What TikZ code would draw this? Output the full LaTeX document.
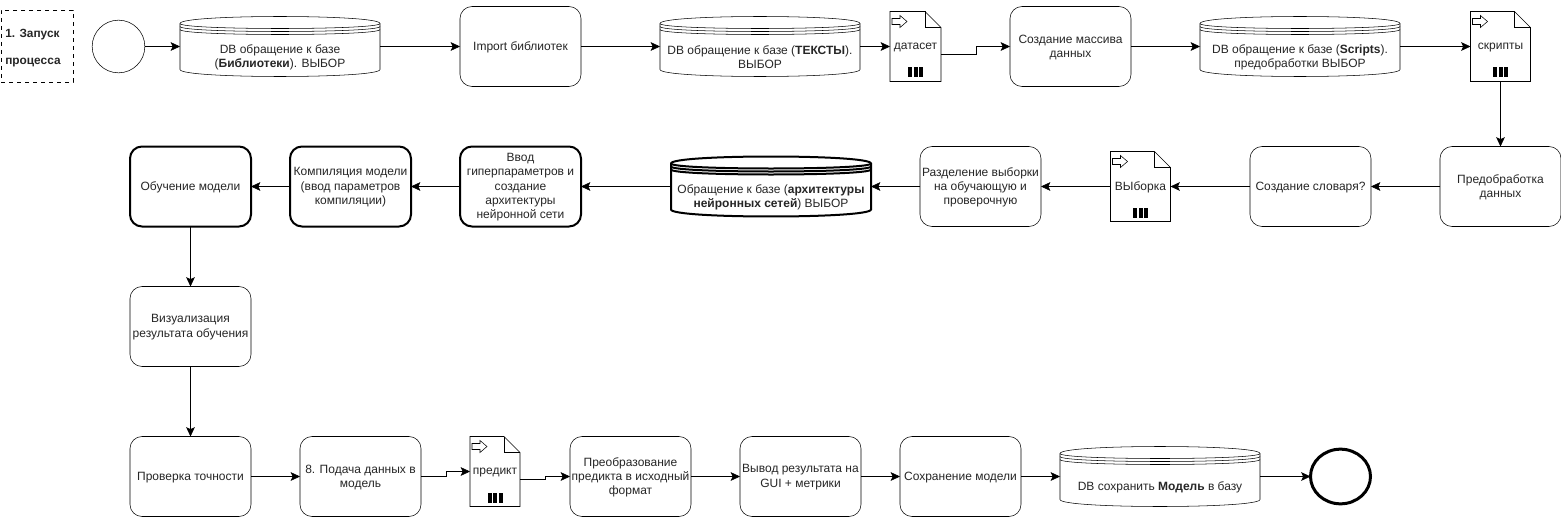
\documentclass[tikz,border=0pt]{standalone}
\usepackage{fontspec}
\setmainfont{Liberation Sans}
\usetikzlibrary{arrows.meta,shapes.geometric}
\tikzset{
  x=0.75pt,y=-0.75pt,
  line width=0.75pt,
  every node/.style={outer sep=0pt},
  label text/.style={font=\fontsize{9}{10.6}\selectfont,align=center,inner sep=0pt,text=black!85},
  flowbox/.style={draw,rounded corners=9pt,minimum width=90.75pt,minimum height=60pt,inner sep=0pt,anchor=north west},
  heavy/.style={line width=1.5pt},
  flow/.style={-{Stealth[length=7pt,width=6.5pt,inset=1.5pt]}},
}
% name, x, y, box style, label
\newcommand{\procbox}[5]{%
  \node[flowbox,#4] (#1) at (#2,#3) {};
  \node[label text,anchor=center] (#1T) at ([yshift=-0.5pt]#1.center) {#5};
}
% name, x, y, style, label
\newcommand{\dbstore}[5]{%
  \node[anchor=north west,minimum width=150pt,minimum height=45pt,inner sep=0pt] (#1) at (#2,#3) {};
  \begin{scope}[shift={(#2,#3)},#4]
    \draw[fill=white] (0,7) .. controls (0,-2.33) and (200,-2.33) .. (200,7) -- (200,53) .. controls (200,62.33) and (0,62.33) .. (0,53) -- cycle;
    \draw (0,7) .. controls (0,13.67) and (200,13.67) .. (200,7);
    \draw (0,10) .. controls (0,16.67) and (200,16.67) .. (200,10);
    \draw (0,13) .. controls (0,19.67) and (200,19.67) .. (200,13);
  \end{scope}
  \node[label text,anchor=center] (#1T) at ([yshift=-8.25pt]#1.center) {#5};
}
% name, x, y, width, height, label
\newcommand{\docnote}[6]{%
  \node[anchor=north west,minimum width=#4*0.75pt,minimum height=#5*0.75pt,inner sep=0pt] (#1) at (#2,#3) {};
  \begin{scope}[shift={(#2,#3)}]
    \draw[fill=white] (0,0) -- (#4-16,0) -- (#4,16) -- (#4,#5) -- (0,#5) -- cycle;
    \draw (#4-16,0) -- (#4-16,16) -- (#4,16);
    \draw (2,7) -- (10,7) -- (10,4) -- (17,10) -- (10,16) -- (10,13) -- (2,13) -- cycle;
    \fill (#4/2-7.5,#5-14) rectangle +(4,10);
    \fill (#4/2-2,#5-14) rectangle +(4,10);
    \fill (#4/2+3.5,#5-14) rectangle +(4,10);
  \end{scope}
  \node[label text,anchor=center] (#1T) at ([yshift=-0.4pt]#1.center) {#6};
}
\begin{document}
\begin{tikzpicture}
\useasboundingbox (0,0) rectangle (1561,517);
\fill[white] (0,0) rectangle (1561,517);

\node[draw,dashed,anchor=north west,minimum width=54pt,minimum height=54pt,inner sep=0pt] (title) at (1,10) {};
\node[label text,anchor=west,align=left,font=\fontsize{8.9}{20.5}\selectfont\bfseries] (titleT) at ([xshift=3.2pt,yshift=-1.5pt]title.west) {1. Запуск\\процесса};

\node[draw,circle,minimum size=39.5pt,inner sep=0pt] (start) at (118.5,46.5) {};
\dbstore{dbA}{180}{16.5}{}{DB обращение к базе\\(\textbf{Библиотеки}). ВЫБОР}
\procbox{imp}{460}{6.5}{}{Import библиотек}
\dbstore{dbB}{660}{16.5}{}{DB обращение к базе (\textbf{ТЕКСТЫ}).\\ВЫБОР}
\docnote{dset}{890}{11.5}{51}{70}{датасет}
\procbox{arr}{1010}{6.5}{}{Создание массива\\данных}
\dbstore{dbC}{1200}{16.5}{}{DB обращение к базе (\textbf{Scripts}).\\предобработки ВЫБОР}
\docnote{scr}{1470.5}{11.5}{60}{70}{скрипты}

\procbox{prep}{1440}{146.5}{}{Предобработка\\данных}
\procbox{dict}{1250}{146.5}{}{Создание словаря?}
\docnote{samp}{1110.5}{151.5}{60}{70}{ВЫборка}
\procbox{split}{920}{146.5}{}{Разделение выборки\\на обучающую и\\проверочную}
\dbstore{dbD}{671}{156.5}{heavy}{Обращение к базе (\textbf{архитектуры}\\\textbf{нейронных сетей}) ВЫБОР}
\procbox{hyper}{460}{146.5}{heavy}{Ввод\\гиперпараметров и\\создание\\архитектуры\\нейронной сети}
\procbox{comp}{290}{146.5}{heavy}{Компиляция модели\\(ввод параметров\\компиляции)}
\procbox{train}{130}{146.5}{heavy}{Обучение модели}

\procbox{vis}{130}{286.5}{}{Визуализация\\результата обучения}

\procbox{check}{130}{436.5}{}{Проверка точности}
\procbox{feed}{300}{436.5}{}{8. Подача данных в\\модель}
\docnote{pred}{470}{436.5}{50}{70}{предикт}
\procbox{conv}{570}{436.5}{}{Преобразование\\предикта в исходный\\формат}
\procbox{gui}{740}{436.5}{}{Вывод результата на\\GUI + метрики}
\procbox{save}{900}{436.5}{}{Сохранение модели}
\dbstore{dbE}{1060}{446.5}{}{DB сохранить \textbf{Модель} в базу}
\node[draw,ellipse,line width=2.25pt,minimum width=45pt,minimum height=41pt,inner sep=0pt] (finish) at (1340.5,476.5) {};

\coordinate (s1) at (976,54.5);
\coordinate (s2) at (976,46.5);
\coordinate (s3) at (446,476.5);
\coordinate (s4) at (446,471.5);
\coordinate (s5) at (545,479.5);
\coordinate (s6) at (545,476.5);

\draw[flow] (start) -- (dbA);
\draw[flow] (dbA) -- (imp);
\draw[flow] (imp) -- (dbB);
\draw[flow] (dbB) -- (dset);
\draw[flow] (s1 -| dset.east) -- (s1) -- (s2) -- (arr.west);
\draw[flow] (arr) -- (dbC);
\draw[flow] (dbC) -- (scr);
\draw[flow] (scr) -- (prep);
\draw[flow] (prep) -- (dict);
\draw[flow] (dict) -- (samp);
\draw[flow] (samp) -- (split);
\draw[flow] (split) -- (dbD);
\draw[flow] (dbD) -- (hyper);
\draw[flow] (hyper) -- (comp);
\draw[flow] (comp) -- (train);
\draw[flow] (train) -- (vis);
\draw[flow] (vis) -- (check);
\draw[flow] (check) -- (feed);
\draw[flow] (feed.east) -- (s3) -- (s4) -- (pred.west);
\draw[flow] (s5 -| pred.east) -- (s5) -- (s6) -- (conv.west);
\draw[flow] (conv) -- (gui);
\draw[flow] (gui) -- (save);
\draw[flow] (save) -- (dbE);
\draw[flow] (dbE) -- (finish);
\end{tikzpicture}
\end{document}
